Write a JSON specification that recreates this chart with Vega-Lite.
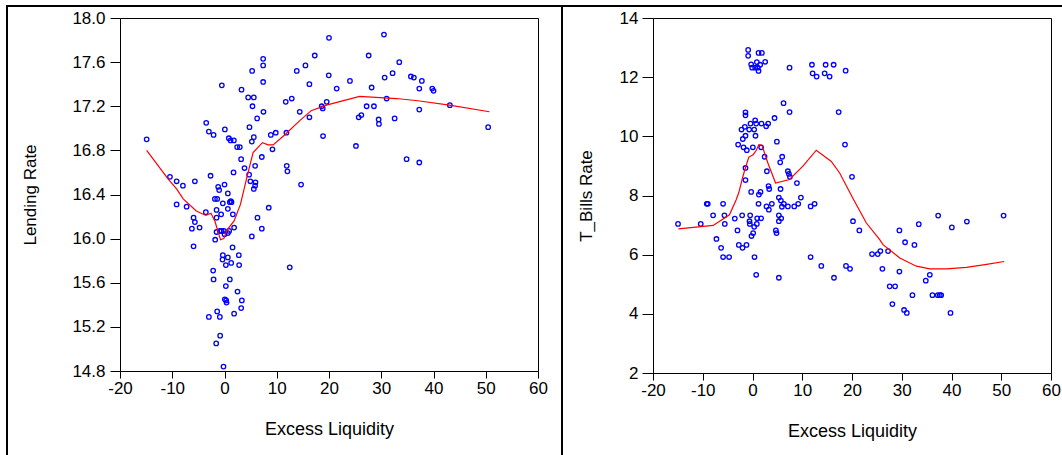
{
  "$schema": "https://vega.github.io/schema/vega-lite/v6.json",
  "padding": {"left": 6, "top": 5, "right": 0, "bottom": 0},
  "autosize": {"type": "pad"},
  "background": "white",
  "columns": 8,
  "spacing": 0,
  "bounds": "flush",
  "align": "each",
  "config": {
    "font": "Liberation Sans",
    "view": {"stroke": "#000000", "strokeWidth": 1},
    "axis": {
      "grid": false,
      "domain": false,
      "tickColor": "#000000",
      "tickWidth": 1,
      "labelColor": "#000000",
      "labelFont": "Liberation Sans",
      "labelFontSize": 17,
      "labelFlush": false,
      "labelOverlap": false,
      "titleColor": "#000000",
      "titleFont": "Liberation Sans",
      "titleFontSize": 17,
      "titleFontWeight": "normal"
    }
  },
  "datasets": {
    "blank": [],
    "lendingPts": [
      {"excess": -14.9, "lending": 16.90},
      {"excess": -10.44, "lending": 16.56},
      {"excess": -9.16, "lending": 16.52},
      {"excess": -7.96, "lending": 16.48},
      {"excess": -5.67, "lending": 16.52},
      {"excess": -9.16, "lending": 16.31},
      {"excess": -7.25, "lending": 16.29},
      {"excess": -5.92, "lending": 16.19},
      {"excess": -5.67, "lending": 16.15},
      {"excess": -6.24, "lending": 16.09},
      {"excess": -4.77, "lending": 16.10},
      {"excess": -5.92, "lending": 15.93},
      {"excess": -3.57, "lending": 16.24},
      {"excess": -3.5, "lending": 17.05},
      {"excess": -2.99, "lending": 16.97},
      {"excess": -2.09, "lending": 16.94},
      {"excess": -2.67, "lending": 16.57},
      {"excess": -1.84, "lending": 16.36},
      {"excess": -1.4, "lending": 16.36},
      {"excess": -1.21, "lending": 16.47},
      {"excess": -1.02, "lending": 16.44},
      {"excess": 0.0, "lending": 16.49},
      {"excess": 0.64, "lending": 16.41},
      {"excess": -0.32, "lending": 16.32},
      {"excess": 0.64, "lending": 16.27},
      {"excess": 1.02, "lending": 16.33},
      {"excess": 1.21, "lending": 16.34},
      {"excess": 1.34, "lending": 16.33},
      {"excess": -0.64, "lending": 16.22},
      {"excess": -1.52, "lending": 16.26},
      {"excess": -1.52, "lending": 16.19},
      {"excess": 1.6, "lending": 16.22},
      {"excess": -1.52, "lending": 16.06},
      {"excess": -0.89, "lending": 16.07},
      {"excess": -0.56, "lending": 16.07},
      {"excess": -0.12, "lending": 16.07},
      {"excess": 0.0, "lending": 16.04},
      {"excess": 0.64, "lending": 16.05},
      {"excess": 0.89, "lending": 16.07},
      {"excess": 1.84, "lending": 16.10},
      {"excess": -1.78, "lending": 15.99},
      {"excess": 1.54, "lending": 15.92},
      {"excess": 2.74, "lending": 15.85},
      {"excess": 2.8, "lending": 15.76},
      {"excess": -0.32, "lending": 15.85},
      {"excess": -0.38, "lending": 15.81},
      {"excess": 0.64, "lending": 15.83},
      {"excess": 0.26, "lending": 15.76},
      {"excess": 1.28, "lending": 15.78},
      {"excess": -2.17, "lending": 15.71},
      {"excess": -2.09, "lending": 15.63},
      {"excess": 1.02, "lending": 15.63},
      {"excess": 0.26, "lending": 15.57},
      {"excess": 2.49, "lending": 15.52},
      {"excess": 0.07, "lending": 15.45},
      {"excess": 0.39, "lending": 15.42},
      {"excess": 0.32, "lending": 15.44},
      {"excess": 3.32, "lending": 15.44},
      {"excess": 3.19, "lending": 15.37},
      {"excess": 1.84, "lending": 15.32},
      {"excess": -1.4, "lending": 15.34},
      {"excess": -0.89, "lending": 15.29},
      {"excess": -2.99, "lending": 15.29},
      {"excess": -0.83, "lending": 15.12},
      {"excess": -1.59, "lending": 15.05},
      {"excess": -0.19, "lending": 14.84},
      {"excess": 5.23, "lending": 16.02},
      {"excess": 6.31, "lending": 16.19},
      {"excess": 7.14, "lending": 16.09},
      {"excess": 8.47, "lending": 16.28},
      {"excess": 12.49, "lending": 15.74},
      {"excess": 14.65, "lending": 16.49},
      {"excess": -0.51, "lending": 17.39},
      {"excess": 3.26, "lending": 17.35},
      {"excess": 4.53, "lending": 17.28},
      {"excess": 5.61, "lending": 17.28},
      {"excess": 5.36, "lending": 17.20},
      {"excess": 5.29, "lending": 17.52},
      {"excess": 7.4, "lending": 17.63},
      {"excess": 7.4, "lending": 17.57},
      {"excess": 7.4, "lending": 17.42},
      {"excess": 7.46, "lending": 17.15},
      {"excess": 6.24, "lending": 17.09},
      {"excess": 4.78, "lending": 17.01},
      {"excess": 5.61, "lending": 16.92},
      {"excess": 5.23, "lending": 16.88},
      {"excess": 7.14, "lending": 16.74},
      {"excess": 5.86, "lending": 16.66},
      {"excess": 4.71, "lending": 16.58},
      {"excess": 0.07, "lending": 16.99},
      {"excess": 0.83, "lending": 16.91},
      {"excess": 1.16, "lending": 16.89},
      {"excess": 1.79, "lending": 16.89},
      {"excess": 2.42, "lending": 16.83},
      {"excess": 2.93, "lending": 16.83},
      {"excess": 3.18, "lending": 16.72},
      {"excess": 3.83, "lending": 16.64},
      {"excess": 1.73, "lending": 16.60},
      {"excess": 4.95, "lending": 16.52},
      {"excess": 5.93, "lending": 16.51},
      {"excess": 5.86, "lending": 16.48},
      {"excess": 5.61, "lending": 16.45},
      {"excess": 9.18, "lending": 16.81},
      {"excess": 8.86, "lending": 16.94},
      {"excess": 9.81, "lending": 16.96},
      {"excess": 11.72, "lending": 17.24},
      {"excess": 12.87, "lending": 17.27},
      {"excess": 14.4, "lending": 17.15},
      {"excess": 11.85, "lending": 16.96},
      {"excess": 11.91, "lending": 16.66},
      {"excess": 12.04, "lending": 16.61},
      {"excess": 13.83, "lending": 17.52},
      {"excess": 15.49, "lending": 17.57},
      {"excess": 17.27, "lending": 17.66},
      {"excess": 16.25, "lending": 17.40},
      {"excess": 16.25, "lending": 17.10},
      {"excess": 18.6, "lending": 17.20},
      {"excess": 18.8, "lending": 17.18},
      {"excess": 18.86, "lending": 16.93},
      {"excess": 20.0, "lending": 17.82},
      {"excess": 19.95, "lending": 17.48},
      {"excess": 19.56, "lending": 17.24},
      {"excess": 21.47, "lending": 17.36},
      {"excess": 25.16, "lending": 16.84},
      {"excess": 24.01, "lending": 17.43},
      {"excess": 27.59, "lending": 17.66},
      {"excess": 30.52, "lending": 17.85},
      {"excess": 28.16, "lending": 17.37},
      {"excess": 27.2, "lending": 17.20},
      {"excess": 28.6, "lending": 17.20},
      {"excess": 25.68, "lending": 17.10},
      {"excess": 26.19, "lending": 17.12},
      {"excess": 29.5, "lending": 17.08},
      {"excess": 29.56, "lending": 17.04},
      {"excess": 31.03, "lending": 17.27},
      {"excess": 30.65, "lending": 17.46},
      {"excess": 32.17, "lending": 17.50},
      {"excess": 33.45, "lending": 17.60},
      {"excess": 32.56, "lending": 17.09},
      {"excess": 35.67, "lending": 17.47},
      {"excess": 36.24, "lending": 17.46},
      {"excess": 37.77, "lending": 17.43},
      {"excess": 37.28, "lending": 17.36},
      {"excess": 39.76, "lending": 17.36},
      {"excess": 40.01, "lending": 17.34},
      {"excess": 37.28, "lending": 17.17},
      {"excess": 34.85, "lending": 16.72},
      {"excess": 37.28, "lending": 16.69},
      {"excess": 43.13, "lending": 17.21},
      {"excess": 50.46, "lending": 17.01}
    ],
    "lendingFit": [
      {"excess": -14.9, "fit": 16.80},
      {"excess": -10.77, "fit": 16.54},
      {"excess": -9.17, "fit": 16.45},
      {"excess": -7.9, "fit": 16.36},
      {"excess": -5.4, "fit": 16.25},
      {"excess": -3.57, "fit": 16.21},
      {"excess": -2.6, "fit": 16.23},
      {"excess": -1.85, "fit": 16.16},
      {"excess": -0.77, "fit": 15.99},
      {"excess": -0.13, "fit": 16.0},
      {"excess": 0.5, "fit": 16.08},
      {"excess": 1.84, "fit": 16.16},
      {"excess": 3.05, "fit": 16.31},
      {"excess": 4.2, "fit": 16.54},
      {"excess": 5.47, "fit": 16.78},
      {"excess": 7.26, "fit": 16.87},
      {"excess": 8.34, "fit": 16.85},
      {"excess": 9.3, "fit": 16.85},
      {"excess": 11.5, "fit": 16.94},
      {"excess": 14.4, "fit": 17.07},
      {"excess": 16.6, "fit": 17.16},
      {"excess": 19.5, "fit": 17.21},
      {"excess": 25.85, "fit": 17.29},
      {"excess": 32.9, "fit": 17.27},
      {"excess": 37.0, "fit": 17.25},
      {"excess": 43.05, "fit": 17.21},
      {"excess": 50.7, "fit": 17.15}
    ],
    "tbillsPts": [
      {"excess": -14.97, "tbills": 7.04},
      {"excess": -10.40, "tbills": 7.04},
      {"excess": -9.19, "tbills": 7.72},
      {"excess": -8.99, "tbills": 7.72},
      {"excess": -7.92, "tbills": 7.33},
      {"excess": -7.25, "tbills": 6.53},
      {"excess": -6.31, "tbills": 6.23},
      {"excess": -5.91, "tbills": 5.92},
      {"excess": -4.70, "tbills": 5.92},
      {"excess": -5.91, "tbills": 7.72},
      {"excess": -5.64, "tbills": 7.33},
      {"excess": -5.57, "tbills": 7.04},
      {"excess": -3.56, "tbills": 7.22},
      {"excess": -3.02, "tbills": 6.82},
      {"excess": -2.75, "tbills": 6.33},
      {"excess": -2.01, "tbills": 6.23},
      {"excess": -1.21, "tbills": 6.33},
      {"excess": -2.08, "tbills": 7.33},
      {"excess": -1.41, "tbills": 8.52},
      {"excess": -1.41, "tbills": 8.93},
      {"excess": -0.27, "tbills": 8.12},
      {"excess": 1.28, "tbills": 8.03},
      {"excess": 1.61, "tbills": 8.12},
      {"excess": 1.21, "tbills": 7.72},
      {"excess": -0.47, "tbills": 7.33},
      {"excess": -0.60, "tbills": 7.13},
      {"excess": -0.54, "tbills": 7.04},
      {"excess": 0.34, "tbills": 6.94},
      {"excess": 0.13, "tbills": 6.73},
      {"excess": -0.20, "tbills": 6.63},
      {"excess": 0.87, "tbills": 7.04},
      {"excess": 0.94, "tbills": 7.23},
      {"excess": 1.74, "tbills": 7.23},
      {"excess": 0.40, "tbills": 5.92},
      {"excess": 0.74, "tbills": 5.32},
      {"excess": 2.82, "tbills": 7.63},
      {"excess": 3.29, "tbills": 7.52},
      {"excess": 3.89, "tbills": 7.72},
      {"excess": 3.22, "tbills": 8.32},
      {"excess": 3.36, "tbills": 8.22},
      {"excess": 5.30, "tbills": 7.93},
      {"excess": 5.70, "tbills": 7.83},
      {"excess": 6.30, "tbills": 7.72},
      {"excess": 5.91, "tbills": 7.62},
      {"excess": 7.11, "tbills": 7.63},
      {"excess": 8.39, "tbills": 7.63},
      {"excess": 9.19, "tbills": 7.72},
      {"excess": 9.73, "tbills": 7.93},
      {"excess": 8.93, "tbills": 8.42},
      {"excess": 5.64, "tbills": 8.22},
      {"excess": 5.30, "tbills": 7.33},
      {"excess": 5.77, "tbills": 7.23},
      {"excess": 5.30, "tbills": 7.13},
      {"excess": 4.70, "tbills": 6.82},
      {"excess": 4.83, "tbills": 6.73},
      {"excess": 5.30, "tbills": 5.22},
      {"excess": 11.68, "tbills": 7.63},
      {"excess": 12.48, "tbills": 7.72},
      {"excess": 11.68, "tbills": 5.92},
      {"excess": 13.83, "tbills": 5.62},
      {"excess": 16.38, "tbills": 5.22},
      {"excess": 18.79, "tbills": 5.62},
      {"excess": 19.60, "tbills": 5.52},
      {"excess": 20.20, "tbills": 7.13},
      {"excess": 21.48, "tbills": 6.82},
      {"excess": -1.54, "tbills": 10.32},
      {"excess": -2.21, "tbills": 10.23},
      {"excess": -0.67, "tbills": 10.23},
      {"excess": 0.34, "tbills": 10.23},
      {"excess": 0.60, "tbills": 10.02},
      {"excess": -1.41, "tbills": 10.02},
      {"excess": -1.95, "tbills": 9.91},
      {"excess": -2.89, "tbills": 9.72},
      {"excess": -1.81, "tbills": 9.63},
      {"excess": -1.14, "tbills": 9.53},
      {"excess": 0.07, "tbills": 9.63},
      {"excess": 1.74, "tbills": 9.63},
      {"excess": 2.42, "tbills": 9.31},
      {"excess": 4.90, "tbills": 9.82},
      {"excess": 5.97, "tbills": 9.31},
      {"excess": 5.57, "tbills": 9.12},
      {"excess": 2.89, "tbills": 8.82},
      {"excess": 7.11, "tbills": 8.82},
      {"excess": 7.32, "tbills": 8.73},
      {"excess": 7.52, "tbills": 8.63},
      {"excess": -1.41, "tbills": 10.81},
      {"excess": -1.41, "tbills": 10.71},
      {"excess": -0.40, "tbills": 10.43},
      {"excess": 0.54, "tbills": 10.54},
      {"excess": 0.74, "tbills": 10.43},
      {"excess": 1.81, "tbills": 10.43},
      {"excess": 3.15, "tbills": 10.43},
      {"excess": 2.75, "tbills": 10.34},
      {"excess": 4.43, "tbills": 10.62},
      {"excess": 6.24, "tbills": 11.12},
      {"excess": 7.45, "tbills": 10.82},
      {"excess": -0.87, "tbills": 12.92},
      {"excess": -0.87, "tbills": 12.72},
      {"excess": -0.27, "tbills": 12.43},
      {"excess": -0.07, "tbills": 12.32},
      {"excess": 0.54, "tbills": 12.32},
      {"excess": 1.07, "tbills": 12.32},
      {"excess": 1.21, "tbills": 12.21},
      {"excess": 0.87, "tbills": 12.51},
      {"excess": 1.54, "tbills": 12.42},
      {"excess": 1.21, "tbills": 12.82},
      {"excess": 1.88, "tbills": 12.82},
      {"excess": 2.55, "tbills": 12.52},
      {"excess": 7.45, "tbills": 12.32},
      {"excess": 11.95, "tbills": 12.42},
      {"excess": 12.08, "tbills": 12.13},
      {"excess": 12.89, "tbills": 12.02},
      {"excess": 14.70, "tbills": 12.42},
      {"excess": 14.50, "tbills": 12.13},
      {"excess": 15.50, "tbills": 12.02},
      {"excess": 16.31, "tbills": 12.42},
      {"excess": 18.72, "tbills": 12.22},
      {"excess": 17.32, "tbills": 10.82},
      {"excess": 18.59, "tbills": 9.72},
      {"excess": 20.0, "tbills": 8.63},
      {"excess": 24.03, "tbills": 6.02},
      {"excess": 25.17, "tbills": 6.02},
      {"excess": 25.70, "tbills": 6.12},
      {"excess": 27.25, "tbills": 6.12},
      {"excess": 26.11, "tbills": 5.52},
      {"excess": 27.58, "tbills": 4.93},
      {"excess": 28.66, "tbills": 4.93},
      {"excess": 28.12, "tbills": 4.33},
      {"excess": 29.53, "tbills": 6.82},
      {"excess": 29.53, "tbills": 5.43},
      {"excess": 30.67, "tbills": 6.42},
      {"excess": 30.47, "tbills": 4.13},
      {"excess": 31.01, "tbills": 4.03},
      {"excess": 32.55, "tbills": 6.33},
      {"excess": 32.15, "tbills": 4.63},
      {"excess": 33.42, "tbills": 7.03},
      {"excess": 34.83, "tbills": 5.12},
      {"excess": 35.64, "tbills": 5.32},
      {"excess": 36.17, "tbills": 4.63},
      {"excess": 37.25, "tbills": 4.63},
      {"excess": 37.65, "tbills": 4.63},
      {"excess": 37.92, "tbills": 4.63},
      {"excess": 37.32, "tbills": 7.32},
      {"excess": 40.07, "tbills": 6.92},
      {"excess": 39.80, "tbills": 4.03},
      {"excess": 43.09, "tbills": 7.12},
      {"excess": 50.47, "tbills": 7.32}
    ],
    "tbillsFit": [
      {"excess": -14.9, "fit": 6.87},
      {"excess": -7.9, "fit": 6.99},
      {"excess": -4.63, "fit": 7.35},
      {"excess": -3.3, "fit": 7.85},
      {"excess": -2.75, "fit": 8.1},
      {"excess": -2.0, "fit": 8.6},
      {"excess": -1.54, "fit": 8.87},
      {"excess": -0.74, "fit": 9.30},
      {"excess": 0.13, "fit": 9.38},
      {"excess": 0.74, "fit": 9.52},
      {"excess": 1.28, "fit": 9.72},
      {"excess": 1.9, "fit": 9.70},
      {"excess": 3.09, "fit": 9.10},
      {"excess": 4.63, "fit": 8.42},
      {"excess": 7.45, "fit": 8.54},
      {"excess": 10.13, "fit": 8.99},
      {"excess": 12.82, "fit": 9.53},
      {"excess": 15.84, "fit": 9.15},
      {"excess": 17.52, "fit": 8.76},
      {"excess": 20.2, "fit": 7.90},
      {"excess": 22.89, "fit": 7.07},
      {"excess": 25.57, "fit": 6.51},
      {"excess": 26.24, "fit": 6.34},
      {"excess": 29.6, "fit": 5.89},
      {"excess": 32.95, "fit": 5.61},
      {"excess": 35.64, "fit": 5.52},
      {"excess": 39.0, "fit": 5.52},
      {"excess": 43.0, "fit": 5.57},
      {"excess": 47.05, "fit": 5.67},
      {"excess": 50.6, "fit": 5.77}
    ]
  },
  "concat": [
    {"width": 2, "height": 13, "data": {"name": "blank"}, "mark": "point", "view": {"fill": "#000000", "stroke": null}},
    {"width": 112, "height": 2, "data": {"name": "blank"}, "mark": "point", "view": {"fill": "#000000", "stroke": null}},
    {"width": 418, "height": 2, "data": {"name": "blank"}, "mark": "point", "view": {"fill": "#000000", "stroke": null}},
    {"width": 23, "height": 2, "data": {"name": "blank"}, "mark": "point", "view": {"fill": "#000000", "stroke": null}},
    {"width": 2, "height": 13, "data": {"name": "blank"}, "mark": "point", "view": {"fill": "#000000", "stroke": null}},
    {"width": 90, "height": 2, "data": {"name": "blank"}, "mark": "point", "view": {"fill": "#000000", "stroke": null}},
    {"width": 398, "height": 2, "data": {"name": "blank"}, "mark": "point", "view": {"fill": "#000000", "stroke": null}},
    {"width": 11, "height": 2, "data": {"name": "blank"}, "mark": "point", "view": {"fill": "#000000", "stroke": null}},
    {"width": 2, "height": 437, "data": {"name": "blank"}, "mark": "point", "view": {"fill": "#000000", "stroke": null}},
    {"width": 1, "height": 1, "data": {"name": "blank"}, "mark": "point", "view": {"stroke": null}},
    {
      "width": 418,
      "height": 353,
      "layer": [
        {
          "data": {"name": "lendingPts"},
          "mark": {"type": "point", "shape": "circle", "filled": false, "stroke": "#0000FF", "strokeWidth": 1.3, "size": 20, "opacity": 1},
          "encoding": {
            "x": {"field": "excess", "type": "quantitative",
              "scale": {"domain": [-20, 60], "nice": false, "zero": false},
              "axis": {"values": [-20, -10, 0, 10, 20, 30, 40, 50, 60], "labelExpr": "'' + datum.value", "title": "Excess Liquidity", "titleFontSize": 18, "tickSize": 7, "labelPadding": 2, "titlePadding": 24}},
            "y": {"field": "lending", "type": "quantitative",
              "scale": {"domain": [14.8, 18.0], "nice": false, "zero": false},
              "axis": {"values": [14.8, 15.2, 15.6, 16.0, 16.4, 16.8, 17.2, 17.6, 18.0], "format": ".1f", "title": "Lending Rate", "tickSize": 10, "labelPadding": 5, "titlePadding": 32}}
          }
        },
        {
          "data": {"name": "lendingFit"},
          "mark": {"type": "line", "stroke": "#FF0000", "strokeWidth": 1.2},
          "encoding": {
            "x": {"field": "excess", "type": "quantitative"},
            "y": {"field": "fit", "type": "quantitative"}
          }
        }
      ]
    },
    {"width": 1, "height": 1, "data": {"name": "blank"}, "mark": "point", "view": {"stroke": null}},
    {"width": 2, "height": 437, "data": {"name": "blank"}, "mark": "point", "view": {"fill": "#000000", "stroke": null}},
    {"width": 1, "height": 1, "data": {"name": "blank"}, "mark": "point", "view": {"stroke": null}},
    {
      "width": 398,
      "height": 355,
      "layer": [
        {
          "data": {"name": "tbillsPts"},
          "mark": {"type": "point", "shape": "circle", "filled": false, "stroke": "#0000FF", "strokeWidth": 1.3, "size": 20, "opacity": 1},
          "encoding": {
            "x": {"field": "excess", "type": "quantitative",
              "scale": {"domain": [-20, 60], "nice": false, "zero": false},
              "axis": {"values": [-20, -10, 0, 10, 20, 30, 40, 50, 60], "labelExpr": "'' + datum.value", "title": "Excess Liquidity", "titleFontSize": 18, "tickSize": 7, "labelPadding": 2, "titlePadding": 24}},
            "y": {"field": "tbills", "type": "quantitative",
              "scale": {"domain": [2, 14], "nice": false, "zero": false},
              "axis": {"values": [2, 4, 6, 8, 10, 12, 14], "format": "d", "title": "T_Bills Rate", "tickSize": 11, "labelPadding": 4, "titlePadding": 24}}
          }
        },
        {
          "data": {"name": "tbillsFit"},
          "mark": {"type": "line", "stroke": "#FF0000", "strokeWidth": 1.2},
          "encoding": {
            "x": {"field": "excess", "type": "quantitative"},
            "y": {"field": "fit", "type": "quantitative"}
          }
        }
      ]
    },
    {"width": 1, "height": 1, "data": {"name": "blank"}, "mark": "point", "view": {"stroke": null}}
  ]
}
